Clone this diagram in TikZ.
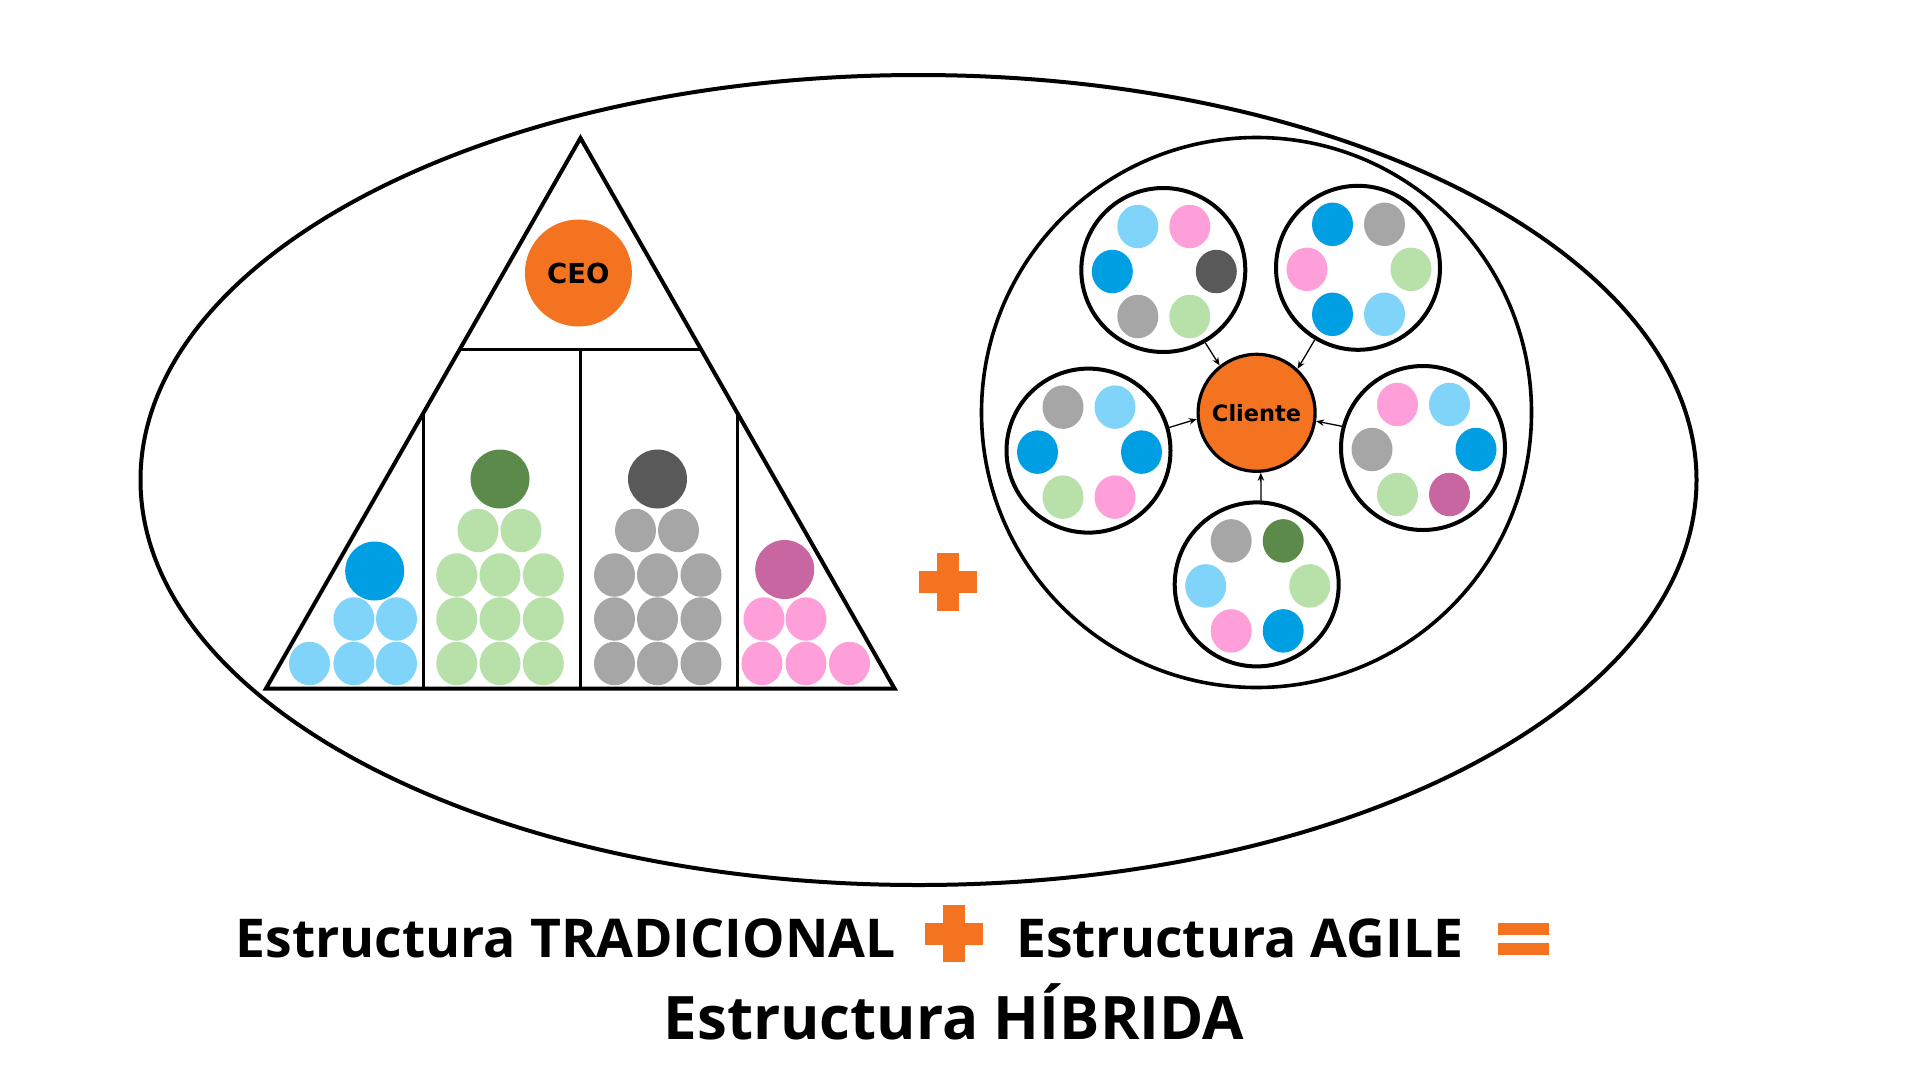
\documentclass[tikz,border=0pt]{standalone}
\usepackage{fontspec}
\setmainfont{Open Sans}
\newfontfamily\dvs{DejaVu Sans}
\usetikzlibrary{shapes.geometric,arrows.meta,calc}
\definecolor{corange}{HTML}{F37321}
\definecolor{cblue}{HTML}{009FE3}
\definecolor{clb}{HTML}{80D4FA}
\definecolor{clg}{HTML}{B7E1A9}
\definecolor{cdg}{HTML}{5C8A4B}
\definecolor{cgray}{HTML}{A6A6A6}
\definecolor{cdgray}{HTML}{595959}
\definecolor{cpink}{HTML}{FF9FDA}
\definecolor{cmag}{HTML}{C866A2}
\begin{document}
\begin{tikzpicture}[x=1pt,y=-1pt,
  lead/.style={circle,minimum size=59pt,inner sep=0pt},
  dot/.style={ellipse,minimum width=41pt,minimum height=43.5pt,inner sep=0pt},
  team/.style={circle,draw=black,line width=4pt,minimum size=164pt,inner sep=0pt},
  arr/.style={line width=1.3pt,-{Stealth[length=8pt,width=6.5pt]}},
  title/.style={font=\bfseries\fontsize{53.5}{60}\selectfont,anchor=base west,inner sep=0pt},
  title2/.style={font=\bfseries\fontsize{60}{66}\selectfont,anchor=base west,inner sep=0pt},
  sign/.style={fill=corange,draw=none}
]
\useasboundingbox[fill=white] (0,0) rectangle (1920,1080);

% big ellipse
\node[ellipse,draw=black,line width=4pt,minimum width=1556pt,minimum height=810pt,inner sep=0pt] (whole) at (918.5,480) {};

% triangle
\coordinate (apex) at (580.5,138);
\coordinate (bl) at (266,688.5);
\coordinate (br) at (894.5,688.5);
\draw[line width=4pt,line join=miter] (apex) -- (bl) -- (br) -- cycle;
\coordinate (hl) at ($(apex)!0.384!(bl)$);
\coordinate (hr) at ($(apex)!0.384!(br)$);
\draw[line width=3pt] (hl) -- (hr);
\coordinate (hm) at ($(hl)!0.5!(hr)$);
\draw[line width=3pt] (hm) -- (hm |- bl);
\coordinate (ml) at ($(apex)!0.5!(bl)$);
\coordinate (mr) at ($(apex)!0.5!(br)$);
\draw[line width=3pt] (ml) -- (ml |- bl);
\draw[line width=3pt] (mr) -- (mr |- bl);

\node[circle,fill=corange,minimum size=107pt,inner sep=0pt,font=\dvs\bfseries\fontsize{27.5}{30}\selectfont] (ceo) at (578.4,273) {CEO};

% column 1 (blue)
\node[lead,fill=cblue] (bluelead) at (374.7,571) {};
\foreach \x/\y [count=\i] in {353.9/619,396.5/619,309.5/663.5,353.9/663.5,396.5/663.5}
  \node[dot,fill=clb] (lb\i) at (\x,\y) {};
% column 2 (green)
\node[lead,fill=cdg] (greenlead) at (500,479) {};
\foreach \x/\y [count=\i] in {478/530.5,521/530.5,
  456.8/575,500/575,543.3/575, 456.8/619,500/619,543.3/619, 456.8/663.5,500/663.5,543.3/663.5}
  \node[dot,fill=clg] (lg\i) at (\x,\y) {};
% column 3 (gray)
\node[lead,fill=cdgray] (graylead) at (657.5,479) {};
\foreach \x/\y [count=\i] in {635.5/530.5,678.5/530.5,
  614.5/575,657.5/575,701/575, 614.5/619,657.5/619,701/619, 614.5/663.5,657.5/663.5,701/663.5}
  \node[dot,fill=cgray] (gr\i) at (\x,\y) {};
% column 4 (pink)
\node[lead,fill=cmag] (maglead) at (784.7,569.5) {};
\foreach \x/\y [count=\i] in {764/619,806/619,762/663.5,806/663.5,849.5/663.5}
  \node[dot,fill=cpink] (pk\i) at (\x,\y) {};

% middle plus
\fill[sign] (937,552.5) rectangle (958.5,610.5);
\fill[sign] (919,571) rectangle (976.5,592.5);

% agile structure
\node[circle,draw=black,line width=3.6pt,minimum size=550pt,inner sep=0pt] (agile) at (1256.5,412.5) {};
\node[circle,draw=black,fill=corange,line width=3.2pt,minimum size=117pt,inner sep=0pt,font=\dvs\bfseries\fontsize{22.5}{26}\selectfont] (cl) at (1256.6,412.8) {Cliente};

\foreach \nm/\cx/\cy/\ca/\cb/\cc/\cd/\ce/\cf in {
  tl/1163.3/270/clb/cpink/cblue/cdgray/cgray/clg,
  tr/1358/267.8/cblue/cgray/cpink/clg/cblue/clb,
  lt/1088.5/450.6/cgray/clb/cblue/cblue/clg/cpink,
  rt/1423/448/cpink/clb/cgray/cblue/clg/cmag,
  bt/1256.7/584.4/cgray/cdg/clb/clg/cpink/cblue}{
  \node[team] (\nm) at (\cx,\cy) {};
  \node[dot,fill=\ca] (\nm d1) at ($(\nm)+(-25.5,-43.5)$) {};
  \node[dot,fill=\cb] (\nm d2) at ($(\nm)+(26.5,-43.5)$) {};
  \node[dot,fill=\cc] (\nm d3) at ($(\nm)+(-51,1.5)$) {};
  \node[dot,fill=\cd] (\nm d4) at ($(\nm)+(53,1.5)$) {};
  \node[dot,fill=\ce] (\nm d5) at ($(\nm)+(-25.5,46.5)$) {};
  \node[dot,fill=\cf] (\nm d6) at ($(\nm)+(26.5,46.5)$) {};
}

\draw[arr] (tl.-60.6) -- (cl.128.1);
\draw[arr] (tr.-121.2) -- (cl.47.8);
\draw[arr] (lt.16.8) -- (cl.186.2);
\draw[arr] (rt.165.4) -- (cl.-8.5);
\draw[arr] (bt.87.6) -- (cl.-86.7);

% bottom text
\node[title] (t1) at (235.5,957.3) {Estructura TRADICIONAL};
\fill[sign] (942.5,905) rectangle (965,962);
\fill[sign] (925,922.5) rectangle (982.5,944.5);
\node[title] (t2) at (1016,957) {Estructura AGILE};
\fill[sign] (1497.5,923.3) rectangle (1548.5,935);
\fill[sign] (1497.5,943) rectangle (1548.5,955);
\node[title2] (t3) at (663.5,1039) {Estructura HÍBRIDA};
\end{tikzpicture}
\end{document}
